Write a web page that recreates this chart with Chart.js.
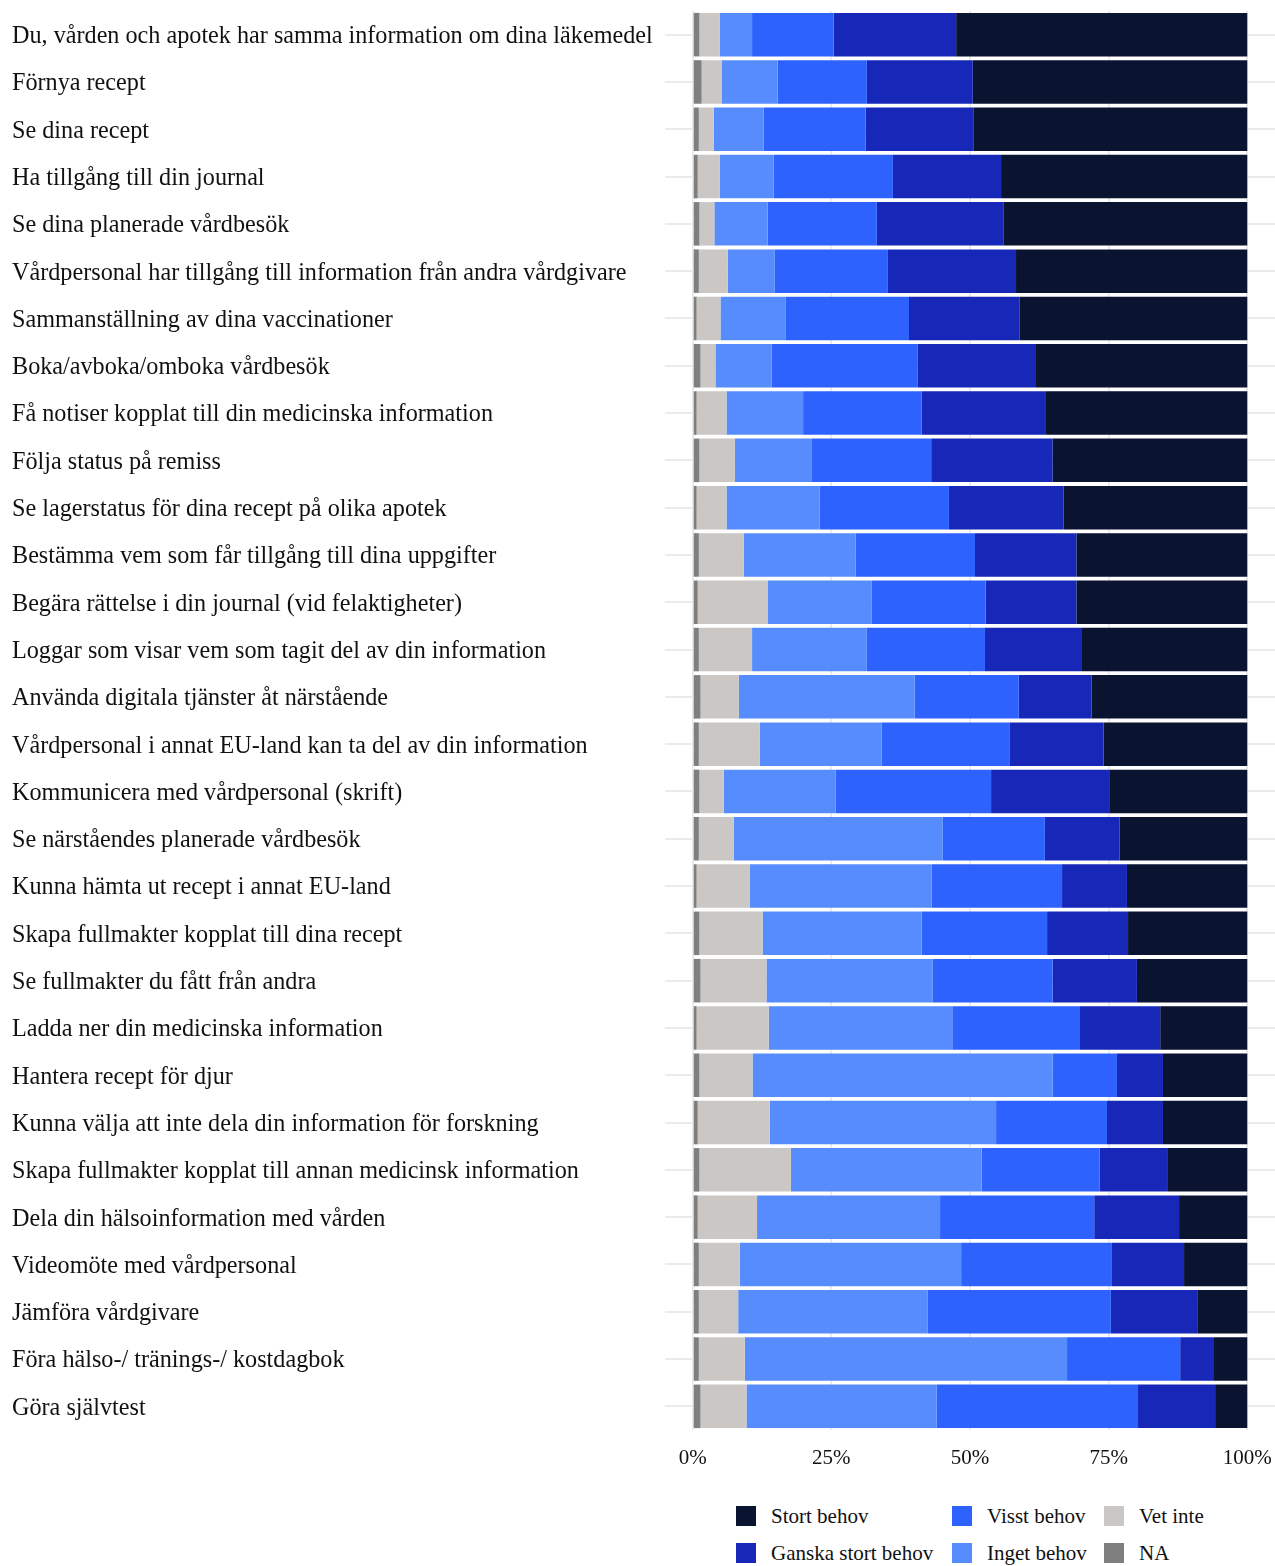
<!DOCTYPE html>
<html>
<head>
<meta charset="utf-8">
<script src="https://cdn.jsdelivr.net/npm/chart.js@4.4.1/dist/chart.umd.min.js"></script>
<style>
    html, body { margin: 0; padding: 0; background: #fff; }
    #wrap { position: relative; width: 1275px; height: 1566px; }
    #chartBox { position: absolute; left: 0; top: 0; width: 1275px; height: 1470px; }
    .leg-item { position: absolute; display: flex; align-items: center; font-family: 'Liberation Serif', 'Times New Roman', serif; font-size: 21px; color: #111; white-space: nowrap; }
    .leg-swatch { width: 20px; height: 20px; margin-right: 15px; }
</style>
</head>
<body>
<div id="wrap">
    <div id="chartBox"><canvas id="chart"></canvas></div>
    <div id="legend"></div>
</div>
<script>
const categories = [
    'Du, vården och apotek har samma information om dina läkemedel',
    'Förnya recept',
    'Se dina recept',
    'Ha tillgång till din journal',
    'Se dina planerade vårdbesök',
    'Vårdpersonal har tillgång till information från andra vårdgivare',
    'Sammanställning av dina vaccinationer',
    'Boka/avboka/omboka vårdbesök',
    'Få notiser kopplat till din medicinska information',
    'Följa status på remiss',
    'Se lagerstatus för dina recept på olika apotek',
    'Bestämma vem som får tillgång till dina uppgifter',
    'Begära rättelse i din journal (vid felaktigheter)',
    'Loggar som visar vem som tagit del av din information',
    'Använda digitala tjänster åt närstående',
    'Vårdpersonal i annat EU-land kan ta del av din information',
    'Kommunicera med vårdpersonal (skrift)',
    'Se närståendes planerade vårdbesök',
    'Kunna hämta ut recept i annat EU-land',
    'Skapa fullmakter kopplat till dina recept',
    'Se fullmakter du fått från andra',
    'Ladda ner din medicinska information',
    'Hantera recept för djur',
    'Kunna välja att inte dela din information för forskning',
    'Skapa fullmakter kopplat till annan medicinsk information',
    'Dela din hälsoinformation med vården',
    'Videomöte med vårdpersonal',
    'Jämföra vårdgivare',
    'Föra hälso-/ tränings-/ kostdagbok',
    'Göra självtest'
];

// andel i procent, en post per kategori
const naValues      = [1.2, 1.6, 1.1, 0.9, 1.2, 1.1, 0.7, 1.4, 0.7, 1.2, 0.7, 1.1, 0.9, 1.1, 1.4, 1.1, 1.2, 1.1, 0.7, 1.2, 1.4, 0.7, 1.2, 0.9, 1.2, 0.9, 1.1, 1.1, 1.1, 1.4];
const vetInteValues = [3.7, 3.6, 2.7, 4.0, 2.7, 5.2, 4.3, 2.7, 5.4, 6.4, 5.4, 8.1, 12.6, 9.6, 6.9, 11.0, 4.4, 6.3, 9.6, 11.4, 11.9, 13.0, 9.6, 13.0, 16.5, 10.7, 7.4, 7.1, 8.3, 8.3];
const ingetValues   = [5.8, 10.1, 9.0, 9.7, 9.6, 8.5, 11.8, 10.1, 13.8, 13.9, 16.8, 20.2, 18.8, 20.7, 31.7, 22.0, 20.2, 37.7, 32.8, 28.7, 30.0, 33.1, 54.1, 40.8, 34.4, 33.0, 39.9, 34.2, 58.1, 34.3];
const visstValues   = [14.7, 16.1, 18.4, 21.5, 19.7, 20.4, 22.2, 26.4, 21.4, 21.5, 23.3, 21.5, 20.5, 21.3, 18.8, 23.1, 28.0, 18.4, 23.5, 22.6, 21.6, 22.9, 11.6, 20.0, 21.3, 27.8, 27.2, 33.0, 20.4, 36.3];
const ganskaValues  = [22.1, 19.1, 19.5, 19.5, 22.9, 23.1, 19.9, 21.3, 22.4, 21.9, 20.7, 18.3, 16.4, 17.5, 13.1, 16.9, 21.3, 13.5, 11.7, 14.6, 15.2, 14.6, 8.3, 10.1, 12.3, 15.3, 13.0, 15.7, 6.1, 13.9];
const stortValues   = [52.5, 49.5, 49.3, 44.4, 43.9, 41.7, 41.1, 38.1, 36.3, 35.1, 33.1, 30.8, 30.8, 29.8, 28.1, 25.9, 24.9, 23.0, 21.7, 21.5, 19.9, 15.7, 15.2, 15.2, 14.3, 12.3, 11.4, 8.9, 6.0, 5.8];

const seriesNames = ['NA', 'Vet inte', 'Inget behov', 'Visst behov', 'Ganska stort behov', 'Stort behov'];
const seriesData = [naValues, vetInteValues, ingetValues, visstValues, ganskaValues, stortValues];
const seriesColors = ['#7f7f7f', '#cbc7c4', '#578cff', '#2d62ff', '#1727b8', '#0a1330'];
const tickValues = [0, 25, 50, 75, 100];

const serif = "'Liberation Serif', 'Times New Roman', serif";
const gridColor = '#ebebeb';

const datasets = seriesNames.map((name, i) => ({
    label: name,
    data: seriesData[i],
    backgroundColor: seriesColors[i],
    borderWidth: 0,
    barPercentage: 0.92,
    categoryPercentage: 1.0
}));

new Chart(document.getElementById('chart'), {
    type: 'bar',
    data: { labels: categories, datasets: datasets },
    options: {
        indexAxis: 'y',
        responsive: true,
        maintainAspectRatio: false,
        animation: false,
        layout: { padding: { left: 12, top: 11, right: 0, bottom: 0 } },
        plugins: {
            legend: { display: false },
            tooltip: { enabled: false }
        },
        scales: {
            x: {
                stacked: true,
                min: -5,
                max: 105,
                afterBuildTicks: (scale) => {
                    scale.ticks = tickValues.map(v => ({ value: v }));
                },
                afterFit: (scale) => {
                    scale.height = 40;
                    scale.paddingLeft = 0;
                    scale.paddingRight = 0;
                },
                grid: { color: gridColor, lineWidth: 2, drawTicks: false },
                border: { display: false },
                ticks: {
                    padding: 16,
                    color: '#111',
                    font: { family: serif, size: 21 },
                    callback: (v) => v + '%'
                }
            },
            y: {
                stacked: true,
                offset: true,
                afterFit: (scale) => {
                    scale.width = 653;
                    scale.paddingTop = 0;
                    scale.paddingBottom = 0;
                },
                grid: { color: gridColor, lineWidth: 2, drawTicks: false, offset: false },
                border: { display: false },
                ticks: {
                    crossAlign: 'far',
                    padding: 0,
                    labelOffset: 2,
                    color: '#111',
                    autoSkip: false,
                    font: { family: serif, size: 24.2 }
                }
            }
        }
    }
});

// legend, column-wise like the original: Stort/Ganska, Visst/Inget, Vet inte/NA
const legendOrder = seriesNames.slice().reverse();
const legendCols = [736, 952, 1104];
const legendRows = [1506, 1543];
const legendEl = document.getElementById('legend');
legendEl.innerHTML = legendOrder.map((name, i) => {
    const idx = seriesNames.indexOf(name);
    const col = Math.floor(i / 2);
    const row = i % 2;
    return `
        <div class="leg-item" style="left:${legendCols[col]}px; top:${legendRows[row]}px; height:20px;">
            <div class="leg-swatch" style="background:${seriesColors[idx]};"></div>
            <span>${name}</span>
        </div>`;
}).join('');
</script>
</body>
</html>
